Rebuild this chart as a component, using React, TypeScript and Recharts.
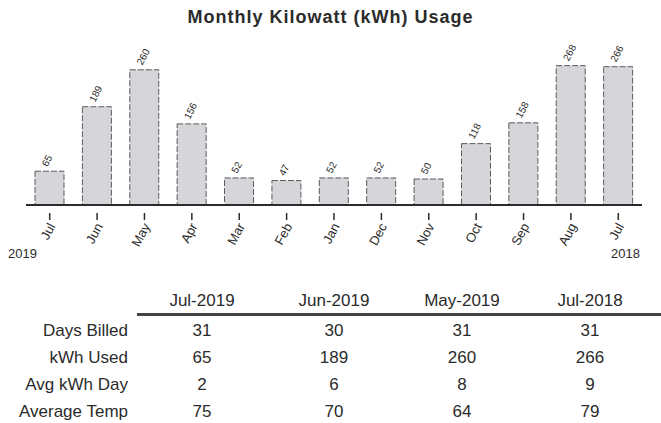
import React from 'react';
import { BarChart, Bar, XAxis, YAxis, LabelList } from 'recharts';

const months = ['Jul', 'Jun', 'May', 'Apr', 'Mar', 'Feb', 'Jan', 'Dec', 'Nov', 'Oct', 'Sep', 'Aug', 'Jul'];
const kwh = [65, 189, 260, 156, 52, 47, 52, 52, 50, 118, 158, 268, 266];

const tableCols = ['Jul-2019', 'Jun-2019', 'May-2019', 'Jul-2018'];
const rowLabels = ['Days Billed', 'kWh Used', 'Avg kWh Day', 'Average Temp'];
const daysBilled = [31, 30, 31, 31];
const kwhUsed = [65, 189, 260, 266];
const avgKwhDay = [2, 6, 8, 9];
const avgTemp = [75, 70, 64, 79];
const tableRows = [daysBilled, kwhUsed, avgKwhDay, avgTemp];

const data = months.map((m, i) => ({ id: `${m}-${i}`, month: m, kwh: kwh[i] }));

const font = '"Liberation Sans", Arial, sans-serif';
const ink = '#2b2b2b';

const MonthTick = (props: any) => {
  const { x, y, payload } = props;
  const label = months[payload.index] ?? '';
  return (
    <g transform={`translate(${x},${y})`}>
      <line x1={0} y1={0} x2={0} y2={7} stroke={ink} strokeWidth={1.5} />
      <text x={2} y={11} dy="0.35em" textAnchor="end" transform="rotate(-62 2 11)" fontSize={13} fill={ink} fontFamily={font}>
        {label}
      </text>
    </g>
  );
};

const BarValue = (props: any) => {
  const { x, y, width, value } = props;
  const cx = x + width / 2;
  return (
    <text x={cx - 2} y={y - 4} transform={`rotate(-62 ${cx - 2} ${y - 4})`} fontSize={10} fill={ink} fontFamily={font}>
      {value}
    </text>
  );
};

const colX = [202, 334, 462, 590];
const rowY = [331, 358, 385, 412];
const fs = 17;

export default function App() {
  return (
    <div style={{ position: 'absolute', left: 0, top: 0, width: 661, height: 423, background: '#fff', fontFamily: font, color: ink }}>
      <div style={{ position: 'absolute', left: 0, top: 7, width: 661, textAlign: 'center', fontWeight: 'bold', fontSize: 18, letterSpacing: 1 }}>
        Monthly Kilowatt (kWh) Usage
      </div>
      <div style={{ position: 'absolute', left: 0, top: 0 }}>
        <BarChart width={661} height={270} data={data} margin={{ top: 49, right: 19, bottom: 10, left: 26 }}>
          <XAxis
            dataKey="id"
            height={55}
            interval={0}
            tickLine={false}
            axisLine={{ stroke: ink, strokeWidth: 2 }}
            tick={<MonthTick />}
          />
          <YAxis hide domain={[0, 300]} />
          <Bar dataKey="kwh" barSize={29} fill="#d5d5da" stroke="#5a5a5a" strokeWidth={1} strokeDasharray="6 2" isAnimationActive={false}>
            <LabelList dataKey="kwh" content={<BarValue />} />
          </Bar>
        </BarChart>
      </div>
      <div style={{ position: 'absolute', left: 8, top: 246, fontSize: 13 }}>2019</div>
      <div style={{ position: 'absolute', left: 611, top: 246, fontSize: 13 }}>2018</div>
      {tableCols.map((c, i) => (
        <div key={c} style={{ position: 'absolute', left: colX[i] - 60, top: 301 - 10, width: 120, textAlign: 'center', fontSize: fs, lineHeight: '20px' }}>
          {c}
        </div>
      ))}
      <div style={{ position: 'absolute', left: 137, top: 313, width: 524, height: 3, background: '#444' }} />
      {rowLabels.map((r, j) => (
        <React.Fragment key={r}>
          <div style={{ position: 'absolute', left: 0, top: rowY[j] - 10, width: 128, textAlign: 'right', fontSize: fs, lineHeight: '20px', whiteSpace: 'nowrap' }}>{r}</div>
          {tableRows[j].map((v, i) => (
            <div key={i} style={{ position: 'absolute', left: colX[i] - 40, top: rowY[j] - 10, width: 80, textAlign: 'center', fontSize: fs, lineHeight: '20px' }}>
              {v}
            </div>
          ))}
        </React.Fragment>
      ))}
    </div>
  );
}
